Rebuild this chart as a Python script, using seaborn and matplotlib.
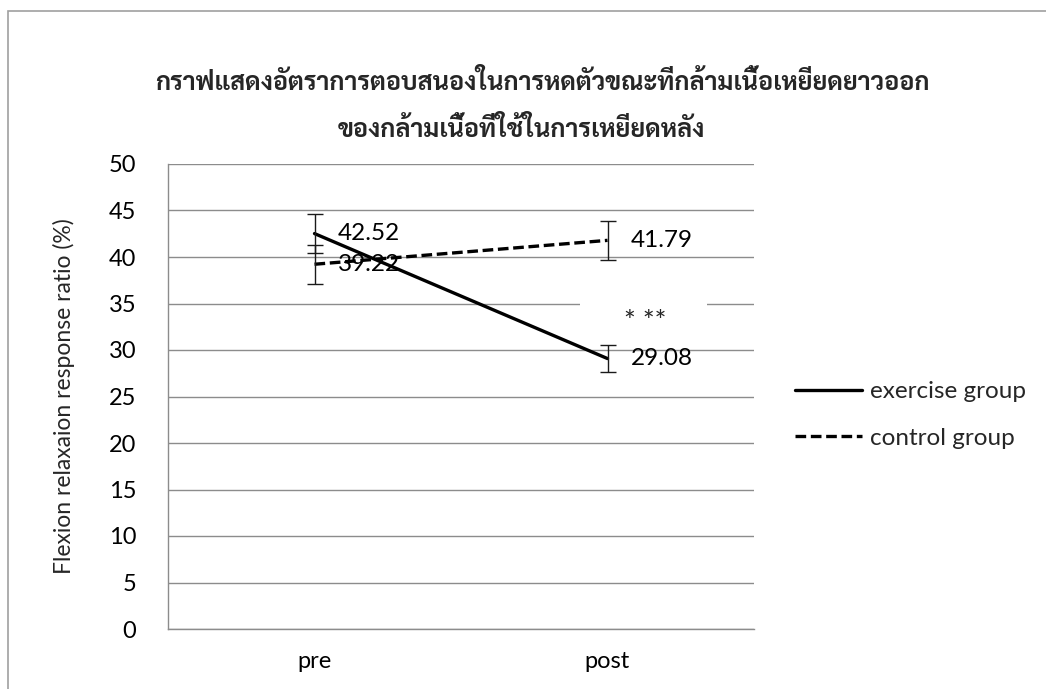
import matplotlib
matplotlib.use("Agg")
import matplotlib.pyplot as plt
from matplotlib.patches import Rectangle
import pandas as pd
import seaborn as sns

# Measurements: group means and standard errors at each time point
phases = ["pre", "post"]
exercise_mean = [42.52, 29.08]
exercise_se = [2.1, 1.45]
control_mean = [39.22, 41.79]
control_se = [2.1, 2.1]
groups = ["exercise group", "control group"]
y_ticks = [0, 5, 10, 15, 20, 25, 30, 35, 40, 45, 50]
title_lines = ["กราฟแสดงอัตราการตอบสนองในการหดตัวขณะที่กล้ามเนื้อเหยียดยาวออก",
               "ของกล้ามเนื้อที่ใช้ในการเหยียดหลัง"]
y_label = "Flexion relaxaion response ratio (%)"
significance = "* **"

df = pd.DataFrame({
    "phase": phases * 2,
    "value": exercise_mean + control_mean,
    "se": exercise_se + control_se,
    "group": [groups[0]] * 2 + [groups[1]] * 2,
})

sns.set_theme(style="white")
body_font = ["Lato", "DejaVu Sans"]
thai_font = ["Sarabun", "DejaVu Sans"]
plt.rcParams["font.family"] = body_font

fig = plt.figure(figsize=(10.46, 6.89), dpi=100)
ax = fig.add_axes([168 / 1046, 1 - 629 / 689, (754 - 168) / 1046, (629 - 164) / 689])

sns.lineplot(data=df, x="phase", y="value", hue="group", style="group",
             palette=["black", "black"], dashes={groups[0]: "", groups[1]: (3.2, 1.4)},
             linewidth=2.4, ax=ax, legend=False, sort=False, zorder=3)

# error bars and value labels
xpos = {p: i for i, p in enumerate(phases)}
for _, r in df.iterrows():
    ax.errorbar(xpos[r["phase"]], r["value"], yerr=r["se"], fmt="none",
                ecolor="#1a1a1a", elinewidth=1.0, capsize=5.5, capthick=1.0, zorder=4)
    ax.annotate(f"{r['value']:.2f}", (xpos[r["phase"]], r["value"]),
                xytext=(17, 0), textcoords="offset points", va="center", ha="left",
                fontsize=17.5, color="black", zorder=5)

ax.set_xlim(-0.5, 1.5)
ax.set_ylim(0, 50)
ax.set_yticks(y_ticks)
ax.set_xticks(range(len(phases)))
ax.set_xticklabels(phases)
ax.grid(axis="y", color="#8c8c8c", linewidth=1.0)
ax.grid(axis="x", visible=False)
ax.set_axisbelow(True)
for s in ["top", "right"]:
    ax.spines[s].set_visible(False)
for s in ["left", "bottom"]:
    ax.spines[s].set_color("#8c8c8c")
    ax.spines[s].set_linewidth(1.0)
ax.tick_params(axis="both", length=0, labelsize=17, colors="black")
ax.tick_params(axis="y", pad=23)
ax.tick_params(axis="x", pad=16)
ax.set_xlabel("")
ax.set_ylabel(y_label, fontsize=16.5, labelpad=24)

# significance marker in a white text box over the 35 gridline
ax.add_patch(Rectangle((0.905, 33.4), 0.435, 2.9, facecolor="white", edgecolor="none", zorder=2))
ax.text(1.128, 32.9, significance, ha="center", va="center", fontsize=20, zorder=5)

# legend drawn beside the plot
handles = [plt.Line2D([], [], color="black", lw=2.4),
           plt.Line2D([], [], color="black", lw=2.4, dashes=(3.2, 1.4))]
fig.legend(handles, groups, loc="upper left", bbox_to_anchor=(795 / 1046, 1 - 381 / 689),
           frameon=False, fontsize=17.5, handlelength=2.75, handletextpad=0.35,
           labelspacing=1.05, borderaxespad=0, borderpad=0)

# title
fig.text(542 / 1046, 1 - 83 / 689, title_lines[0], ha="center", va="center",
         fontsize=18.2, fontweight="bold", family=thai_font)
fig.text(521 / 1046, 1 - 130 / 689, title_lines[1], ha="center", va="center",
         fontsize=18.2, fontweight="bold", family=thai_font)

# chart area border
fig.add_artist(Rectangle((8 / 1046, -0.05), 1.1, 1 - 11 / 689 + 0.05,
                         transform=fig.transFigure, facecolor="none",
                         edgecolor="#a0a0a0", linewidth=1.2))

fig.savefig("out.png", dpi=100)
